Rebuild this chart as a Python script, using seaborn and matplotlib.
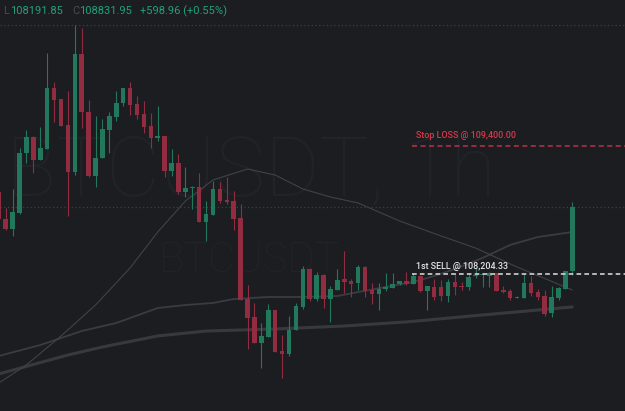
import matplotlib
matplotlib.use("Agg")
import matplotlib.pyplot as plt
import seaborn as sns
import numpy as np

# ---------------- data (BTCUSDT 1h candles) ----------------
opens = [108971,108718,108625,108774,109335,109484,109269,109372,109942,109839,
         109596,109157,110260,109718,109120,109288,109550,109671,109802,109942,
         109793,109699,109587,109475,109494,109167,109241,108971,109008,109017,
         108690,108756,108999,108896,108886,108728,107971,107803,107560,107616,
         107868,107485,107457,107682,107896,108251,107971,108195,107971,108055,
         108158,108139,108120,108270,108055,108018,108064,108074,108111,108139,
         108111,108186,108046,108083,108083,107999,108130,108092,108083,108186,
         108195,108186,108214,108055,108046,107980,107980,108120,108036,107999,
         107840,107980,108064,108233]
highs = [108989,108821,108999,109382,109550,109494,109578,110269,109998,109839,
         109914,110530,110502,109830,109680,109652,109718,109914,109942,109998,
         109867,109821,109708,109774,109494,109372,109326,109204,109027,109148,
         108886,109073,109064,109111,108980,108858,108102,107934,107747,107924,
         107868,107635,107812,107934,108279,108261,108223,108205,108092,108251,
         108419,108158,108289,108279,108120,108120,108214,108214,108130,108223,
         108214,108186,108092,108158,108149,108158,108214,108130,108214,108261,
         108214,108223,108214,108092,108064,107999,108205,108186,108064,108055,
         108092,108083,108233,108877]
lows = [108690,108616,108560,108765,109241,109148,109269,109372,109624,109587,
        108746,109129,109568,109111,109017,109288,109335,109634,109774,109690,
        109652,109522,109382,109447,109111,109120,108952,108924,108812,108690,
        108513,108756,108868,108858,108616,107962,107504,107560,107327,107616,
        107476,107233,107439,107682,107878,107952,107952,107887,107756,108055,
        108027,107990,108055,107990,107924,107868,108046,108074,108102,108102,
        108111,108036,107868,107962,107952,107943,108008,108055,108055,108167,
        108083,108083,108046,108027,107962,107980,107980,107999,107962,107812,
        107803,107962,108064,108191.85]
closes = [108718,108625,108784,109335,109484,109269,109382,109942,109830,109587,
          109157,110260,109718,109120,109288,109559,109680,109802,109942,109783,
          109690,109578,109475,109494,109167,109241,108971,109008,109017,108690,
          108765,108999,108886,108877,108718,107962,107794,107560,107625,107868,
          107476,107457,107682,107906,108251,107971,108195,107971,108064,108149,
          108130,108111,108270,108046,108018,108064,108083,108111,108139,108111,
          108186,108046,108092,107990,107999,108130,108083,108083,108177,108195,
          108205,108214,108046,108036,107980,107990,108120,108027,107990,107831,
          107990,108074,108233,108831.95]

# moving-average lines, read at candle indices
ma_fast_idx = [0, 4, 9, 14, 19, 23, 27, 31, 36, 40, 44, 48, 52, 58, 64, 69, 75, 83]
ma_fast_val = [107187, 107355, 107625, 107915, 108261, 108597, 108886, 109083, 109185,
               109129, 108999, 108924, 108868, 108700, 108560, 108447, 108270, 108055]
ma_mid_idx = [0, 6, 12, 17, 23, 27, 31, 34, 39, 44, 49, 52, 56, 60, 63, 66, 70, 74, 78, 83]
ma_mid_val = [107439, 107541, 107672, 107747, 107887, 107915, 107934, 107971, 107990, 107990,
              107999, 108036, 108083, 108130, 108186, 108251, 108354, 108476, 108550, 108597]
ma_slow_idx = [0, 10, 15, 23, 30, 40, 50, 59, 70, 83]
ma_slow_val = [107271, 107448, 107523, 107626, 107672, 107691, 107719, 107757, 107822, 107897]

stop_loss = 109400.00
first_sell = 108204.33
top_level = 110530
level_start = 60
last_low = 108191.85
last_close = 108831.95
change = 598.96
change_pct = 0.55

# ---------------- style ----------------
BG = "#1c1d21"
GREEN = "#22785a"
RED = "#922c40"
sns.set_theme(style="dark", rc={"axes.facecolor": BG, "figure.facecolor": BG})
plt.rcParams["font.family"] = ["Roboto", "DejaVu Sans"]

fig = plt.figure(figsize=(6.25, 4.11), dpi=100)
ax = fig.add_axes([0, 0, 1, 1])
ax.set_facecolor(BG)

# watermarks (inside the axes, behind everything)
ax.text(6 / 625, 1 - 195 / 411, "BTCUSDT, 1h", color="#222328", fontsize=60,
        fontweight="light", ha="left", va="baseline", zorder=0,
        transform=fig.transFigure)
ax.text(159 / 625, 1 - 272 / 411, "BTCUSDT", color="#222328", fontsize=30,
        fontweight="light", ha="left", va="baseline", zorder=0,
        transform=fig.transFigure)

# moving averages
sns.lineplot(x=ma_slow_idx, y=ma_slow_val, ax=ax, color="#38393e", linewidth=2.2, zorder=1)
sns.lineplot(x=ma_mid_idx, y=ma_mid_val, ax=ax, color="#3b3c41", linewidth=1.3, zorder=1)
sns.lineplot(x=ma_fast_idx, y=ma_fast_val, ax=ax, color="#404248", linewidth=0.8, zorder=1)

# dotted horizontal lines
ax.axhline(top_level, color="#2c4642", lw=0.9, ls=(0, (1, 2)), zorder=1)
ax.axhline(last_close, color="#2c4642", lw=0.9, ls=(0, (1, 2)), zorder=1)

# candles
idx = np.arange(len(opens))
o = np.array(opens); h = np.array(highs); l = np.array(lows); c = np.array(closes)
up = c >= o
cols = np.where(up, GREEN, RED)
ax.vlines(idx, l, h, colors=cols, linewidth=0.8, zorder=2)
body_lo = np.minimum(o, c)
body_h = np.maximum(np.abs(c - o), 9)
ax.bar(idx, body_h, bottom=body_lo, width=0.66, color=cols, linewidth=0, zorder=3)

# levels
xmax = 90.62
ax.hlines(stop_loss, level_start - 0.2, xmax, color="#a3303f", lw=1.3,
          linestyles=(0, (2.8, 1.9)), zorder=4)
ax.hlines(first_sell, level_start - 0.2, xmax, color="#d0d0d0", lw=1.2,
          linestyles=(0, (2.8, 1.9)), zorder=4)
ax.annotate(f"Stop LOSS @ {stop_loss:,.2f}", (level_start, stop_loss),
            xytext=(2, 4), textcoords="offset points", color="#d8394b",
            fontsize=6.4, fontweight="medium", ha="left", va="bottom", zorder=5)
ax.annotate(f"1st SELL @ {first_sell:,.2f}", (level_start, first_sell),
            xytext=(2, 2.5), textcoords="offset points", color="#e6e6e6",
            fontsize=6.4, fontweight="medium", ha="left", va="bottom", zorder=5)

ax.set_xlim(0.175, xmax)
ax.set_ylim(106925, 110764)
ax.set_xticks([]); ax.set_yticks([])
ax.set_xlabel(""); ax.set_ylabel("")
for s in ax.spines.values():
    s.set_visible(False)

# header
HG = "#22a07a"
GR = "#4a4c53"
yh = 1 - 11 / 411
fig.text(3 / 625, yh, "L", color=GR, fontsize=8, va="center", ha="left")
fig.text(10 / 625, yh, f"{last_low:.2f}", color=HG, fontsize=8, va="center", ha="left")
fig.text(72 / 625, yh, "C", color=GR, fontsize=8, va="center", ha="left")
fig.text(79 / 625, yh, f"{last_close:.2f}", color=HG, fontsize=8, va="center", ha="left")
fig.text(140 / 625, yh, f"+{change:.2f} (+{change_pct:.2f}%)", color=HG, fontsize=8,
         va="center", ha="left")

fig.savefig("out.png", dpi=100, facecolor=BG)
